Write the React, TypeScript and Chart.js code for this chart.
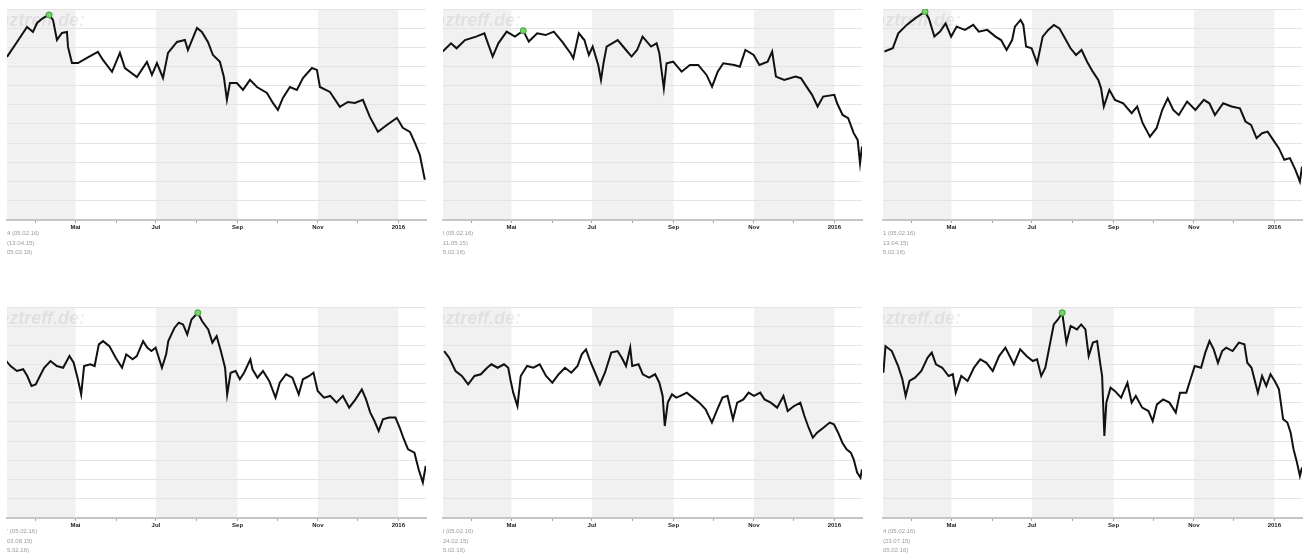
import React, { useEffect, useRef } from 'react';
import Chart from 'chart.js/auto';

// x axis: day number counted from 1 Jan 2015 (= 0)
const X_MIN = 68;
const X_MAX = 386;
const monthStartDays = [90, 120, 151, 181, 212, 243, 273, 304, 334, 365];
const monthTickLabels = ['', 'Mai', '', 'Jul', '', 'Sep', '', 'Nov', '', '2016'];
const shadedRanges = [[68, 120], [181, 243], [304, 365]];
const Y_MIN = 0;
const Y_MAX = 110;
const Y_STEP = 10;

const p1Days = [68, 75.6, 83.2, 87.7, 90.8, 95.3, 99.9, 102.9, 105.9, 109.7, 113.5, 114.3, 117.3, 121.9, 128.7, 137.0, 140.8, 147.7, 153.7, 157.5, 166.6, 174.2, 178.0, 181.8, 186.4, 190.2, 197.0, 203.0, 205.3, 208.4, 212.2, 215.9, 220.5, 224.3, 229.6, 232.6, 234.9, 237.2, 242.5, 247.1, 252.4, 257.7, 265.3, 269.8, 273.6, 277.4, 282.7, 288.0, 292.6, 299.4, 303.2, 305.5, 313.1, 320.6, 326.7, 332.0, 338.1, 343.4, 349.5, 356.3, 363.9, 368.4, 373.8, 377.6, 381.3, 385.1];
const p1Values = [85.0, 92.8, 100.6, 98.0, 102.7, 105.3, 106.9, 104.3, 93.8, 97.5, 98.0, 90.2, 81.8, 81.8, 84.5, 87.6, 83.4, 77.2, 87.1, 79.2, 74.5, 82.4, 75.6, 81.8, 74.0, 87.1, 92.8, 93.8, 88.6, 93.8, 100.1, 98.0, 92.8, 86.0, 82.4, 74.5, 62.6, 71.4, 71.4, 67.8, 73.0, 69.3, 66.2, 61.0, 57.3, 63.6, 69.3, 67.8, 74.0, 79.2, 78.2, 69.3, 66.7, 58.9, 61.5, 61.0, 62.6, 53.7, 45.9, 49.5, 53.2, 48.0, 45.9, 40.1, 33.9, 20.9];

const p2Days = [67.8, 74.1, 78.3, 84.7, 93.1, 99.4, 105.7, 110.0, 116.3, 122.6, 128.9, 133.1, 139.5, 145.8, 152.1, 158.4, 164.8, 166.9, 171.1, 175.3, 178.7, 181.6, 185.8, 187.9, 190.0, 192.2, 200.6, 206.9, 211.1, 215.3, 219.5, 225.9, 230.1, 232.2, 235.6, 237.7, 242.7, 249.1, 255.4, 261.7, 268.0, 272.2, 276.5, 280.7, 289.1, 293.3, 297.5, 303.8, 308.1, 314.4, 317.8, 320.7, 327.0, 335.5, 339.7, 343.9, 348.1, 352.3, 356.5, 365.0, 367.1, 371.3, 375.5, 379.7, 382.7, 384.5, 386];
const p2Values = [87.8, 92.1, 89.5, 93.8, 95.6, 97.3, 85.2, 92.1, 98.2, 95.6, 98.7, 93.0, 97.3, 96.4, 98.2, 93.0, 86.9, 84.3, 97.3, 93.8, 86.0, 90.4, 80.8, 73.0, 82.5, 90.4, 93.8, 88.6, 85.2, 88.6, 95.6, 90.4, 92.1, 86.9, 68.6, 81.7, 82.5, 77.3, 80.8, 80.8, 75.6, 69.5, 77.3, 81.7, 80.8, 79.9, 88.6, 86.0, 80.8, 82.5, 87.8, 74.7, 73.0, 74.7, 73.9, 69.5, 65.2, 59.1, 64.3, 65.2, 60.8, 54.7, 53.0, 45.2, 41.7, 29.5, 38.2];

const p3Days = [69.1, 75.4, 79.6, 86.0, 92.3, 99.9, 102.8, 107.0, 111.3, 115.5, 119.7, 123.9, 130.2, 136.5, 140.7, 147.1, 153.4, 157.6, 161.8, 166.0, 168.1, 172.4, 174.5, 176.6, 180.8, 185.0, 189.2, 193.4, 197.7, 201.9, 206.1, 210.3, 214.5, 218.7, 222.9, 227.2, 231.4, 233.5, 235.6, 239.8, 244.0, 250.3, 256.7, 260.9, 265.1, 270.6, 275.6, 279.9, 284.1, 288.3, 292.5, 298.8, 305.1, 311.5, 315.7, 319.9, 326.2, 332.5, 338.9, 343.1, 347.3, 351.5, 355.7, 359.9, 364.1, 368.4, 372.6, 376.8, 381.0, 384.4, 386];
const p3Values = [87.8, 89.5, 97.3, 101.7, 105.1, 108.6, 105.1, 95.6, 98.2, 102.5, 95.6, 100.8, 99.1, 101.7, 98.2, 99.1, 95.6, 93.8, 88.6, 93.8, 100.8, 104.3, 101.7, 90.4, 89.5, 81.7, 95.6, 99.1, 101.7, 99.9, 94.7, 89.5, 86.0, 88.6, 82.5, 77.3, 73.0, 68.6, 59.1, 67.8, 62.6, 60.8, 55.6, 59.1, 50.4, 43.4, 47.8, 57.3, 63.4, 57.3, 54.7, 61.7, 57.3, 62.6, 60.8, 54.7, 60.8, 59.1, 58.2, 51.3, 49.5, 42.6, 45.2, 46.0, 41.7, 37.4, 31.3, 32.2, 26.1, 20.0, 27.8];

const p4Days = [67.5, 70.7, 75.5, 80.3, 83.4, 86.6, 89.8, 93.0, 96.2, 101.0, 105.8, 110.6, 115.4, 118.6, 121.8, 124.3, 126.5, 131.3, 134.5, 137.7, 140.9, 145.7, 150.5, 155.3, 158.5, 163.3, 166.5, 171.3, 174.4, 177.6, 180.8, 185.6, 188.8, 190.4, 195.2, 198.4, 201.6, 204.8, 208.0, 212.8, 216.0, 220.7, 223.9, 227.1, 230.3, 233.5, 235.1, 237.7, 241.5, 244.7, 247.9, 252.7, 254.3, 258.1, 262.3, 267.0, 271.8, 275.0, 279.8, 284.6, 289.4, 292.6, 297.4, 300.6, 303.8, 308.6, 313.3, 318.1, 322.9, 327.7, 332.5, 337.3, 340.5, 343.7, 346.9, 350.1, 353.3, 358.0, 362.8, 366.0, 369.2, 372.4, 377.2, 380.4, 383.6, 385.8];
const p4Values = [81.8, 79.2, 76.6, 77.5, 74.0, 68.8, 69.6, 74.0, 78.3, 81.8, 79.2, 78.3, 84.4, 80.9, 72.3, 64.4, 79.2, 80.1, 79.2, 90.5, 92.2, 89.6, 83.5, 78.3, 85.3, 82.7, 84.4, 92.2, 88.8, 87.0, 88.8, 78.3, 85.3, 92.2, 99.2, 101.8, 100.9, 95.7, 103.5, 107.0, 102.7, 98.3, 91.4, 94.8, 87.0, 78.3, 64.4, 75.7, 76.6, 72.3, 75.7, 82.7, 77.5, 73.1, 76.6, 71.4, 62.7, 70.5, 74.9, 73.1, 64.4, 72.3, 74.0, 75.7, 66.2, 62.7, 63.6, 60.1, 63.6, 57.5, 61.8, 67.0, 61.8, 54.9, 50.5, 45.3, 51.4, 52.3, 52.3, 47.0, 41.0, 35.7, 34.0, 25.3, 18.4, 27.1];

const p5Days = [68.9, 72.7, 77.5, 82.3, 87.1, 91.9, 96.7, 101.5, 104.7, 109.5, 114.3, 117.5, 119.1, 121.3, 124.5, 127.0, 131.8, 136.6, 141.4, 146.2, 151.0, 155.8, 160.6, 165.4, 170.1, 173.3, 176.5, 179.7, 182.9, 187.1, 190.9, 195.7, 200.5, 203.7, 206.9, 210.1, 211.6, 216.4, 219.6, 224.4, 229.0, 232.2, 234.7, 236.3, 238.6, 241.8, 245.0, 248.2, 253.0, 257.7, 262.5, 267.3, 272.1, 276.2, 280.1, 283.9, 288.1, 291.3, 296.0, 299.9, 304.0, 308.8, 312.0, 316.8, 321.6, 326.4, 329.6, 334.4, 339.2, 342.3, 345.5, 348.7, 351.9, 356.7, 361.5, 364.7, 367.9, 371.1, 374.3, 377.5, 379.7, 382.3, 384.8, 386];
const p5Values = [87.0, 83.5, 76.6, 74.0, 69.6, 74.0, 74.9, 78.3, 80.1, 78.3, 80.1, 78.3, 72.3, 65.3, 58.3, 74.0, 79.2, 78.3, 80.1, 74.0, 70.5, 74.9, 78.3, 75.7, 79.2, 85.3, 87.9, 81.8, 76.6, 69.6, 75.7, 86.2, 87.0, 83.5, 79.2, 88.8, 79.2, 80.1, 74.9, 73.1, 74.9, 70.5, 63.6, 47.9, 60.1, 64.4, 62.7, 63.6, 65.3, 62.7, 60.1, 56.6, 49.7, 56.6, 62.7, 63.6, 51.4, 60.1, 61.8, 65.3, 63.6, 65.3, 61.8, 60.1, 57.5, 63.6, 55.7, 58.3, 60.1, 53.1, 47.0, 41.8, 44.4, 47.0, 49.7, 48.8, 44.4, 39.2, 35.7, 34.0, 30.5, 23.6, 21.0, 25.3];

const p6Days = [68.3, 69.9, 74.7, 79.5, 82.7, 85.2, 88.1, 92.3, 97.1, 101.8, 105.0, 108.2, 113.0, 117.8, 121.0, 123.2, 127.4, 132.2, 137.0, 141.8, 146.5, 151.3, 156.1, 160.9, 164.1, 167.3, 172.1, 176.9, 181.7, 184.9, 188.1, 191.2, 194.4, 197.6, 200.8, 204.0, 207.2, 210.4, 215.2, 218.4, 221.6, 224.1, 227.3, 230.5, 232.8, 234.3, 236.0, 237.5, 240.7, 243.9, 248.7, 253.5, 256.7, 259.9, 264.7, 269.5, 272.7, 275.9, 280.6, 285.4, 290.2, 293.4, 298.2, 301.4, 304.6, 309.4, 312.6, 315.8, 319.0, 322.2, 325.4, 328.5, 333.3, 338.1, 342.3, 344.5, 347.7, 352.5, 355.7, 358.9, 362.1, 365.3, 368.5, 371.7, 374.9, 377.4, 379.6, 381.9, 384.4, 386];
const p6Values = [75.7, 89.6, 87.0, 79.2, 72.3, 63.6, 71.4, 73.1, 76.6, 83.5, 86.2, 80.1, 78.3, 74.0, 74.9, 65.3, 74.0, 71.4, 78.3, 82.7, 80.9, 76.6, 84.4, 88.8, 84.4, 80.1, 87.9, 84.4, 81.8, 82.7, 74.0, 78.3, 89.6, 100.9, 103.5, 107.0, 91.4, 100.1, 98.3, 100.9, 98.3, 84.4, 91.4, 92.2, 80.9, 74.0, 42.7, 60.1, 67.9, 66.2, 62.7, 70.5, 60.1, 63.6, 57.5, 55.7, 50.5, 59.2, 61.8, 60.1, 54.9, 65.3, 65.3, 72.3, 79.2, 78.3, 86.2, 92.2, 87.9, 80.9, 87.0, 88.8, 87.0, 91.4, 90.5, 80.9, 78.3, 65.3, 74.0, 68.8, 74.9, 71.4, 67.0, 51.4, 49.7, 44.4, 35.7, 29.7, 21.9, 26.2];

// day of the 52-week high per panel (13.04.15, 11.05.15, 13.04.15, 03.08.15, 24.02.15, 23.07.15)
const highDays = [102, 130, 102, 214, 54, 203];

const p1Info = ['4 (05.02.16)', '(13.04.15)', '05.02.16)'];
const p2Info = ['l (05.02.16)', '11.05.15)', '5.02.16)'];
const p3Info = ['1 (05.02.16)', '13.04.15)', '5.02.16)'];
const p4Info = ["' (05.02.16)", '03.08.15)', '5.02.16)'];
const p5Info = ['l (05.02.16)', '24.02.15)', '5.02.16)'];
const p6Info = ['4 (05.02.16)', '(23.07.15)', '05.02.16)'];

const FONT = 'Liberation Sans, Arial, sans-serif';
const CANVAS_W = 436;
const CANVAS_H = 262;

const bandPlugin = {
  id: 'bands',
  beforeDraw(chart: any) {
    const { ctx, chartArea, scales } = chart;
    const xs = scales.x;
    ctx.save();
    ctx.fillStyle = '#f1f1f1';
    for (const [a, b] of shadedRanges) {
      const x0 = Math.max(chartArea.left, xs.getPixelForValue(a));
      const x1 = Math.min(chartArea.right, xs.getPixelForValue(b));
      if (x1 > x0) ctx.fillRect(x0, chartArea.top, x1 - x0, chartArea.bottom - chartArea.top);
    }
    ctx.restore();
  },
};

const watermarkPlugin = {
  id: 'watermark',
  beforeDatasetsDraw(chart: any) {
    const { ctx, chartArea } = chart;
    ctx.save();
    ctx.beginPath();
    ctx.rect(chartArea.left, chartArea.top, chartArea.right - chartArea.left, chartArea.bottom - chartArea.top);
    ctx.clip();
    ctx.font = `italic bold 18px ${FONT}`;
    ctx.fillStyle = 'rgba(0,0,0,0.065)';
    ctx.textAlign = 'right';
    ctx.textBaseline = 'alphabetic';
    ctx.fillText('finanztreff.de:', chartArea.left + 78, chartArea.top + 17);
    ctx.restore();
  },
};

const infoPlugin = {
  id: 'info',
  afterDraw(chart: any, _args: any, opts: any) {
    const { ctx, chartArea } = chart;
    const lines: string[] = opts.lines || [];
    ctx.save();
    ctx.font = `6px ${FONT}`;
    ctx.fillStyle = '#9a9a9a';
    ctx.textAlign = 'left';
    ctx.textBaseline = 'middle';
    lines.forEach((t, i) => {
      ctx.fillText(t, chartArea.left, chartArea.bottom + 14 + i * 9.5);
    });
    ctx.restore();
  },
};

function Panel(props: { days: number[]; values: number[]; highDay: number; info: string[]; left: number; top: number }) {
  const ref = useRef<HTMLCanvasElement>(null);
  useEffect(() => {
    const points = props.days.map((d, i) => ({ x: d, y: props.values[i] }));
    let peak: any[] = [];
    if (props.highDay >= X_MIN) {
      let mi = 0;
      props.values.forEach((v, i) => { if (v > props.values[mi]) mi = i; });
      peak = [points[mi]];
    }
    const chart = new Chart(ref.current as HTMLCanvasElement, {
      type: 'line',
      data: {
        datasets: [
          {
            type: 'scatter',
            data: peak,
            pointRadius: 3,
            pointBackgroundColor: '#79d46c',
            pointBorderColor: '#3d9a35',
            pointBorderWidth: 1,
            order: 0,
          } as any,
          {
            type: 'line',
            data: points,
            borderColor: '#111',
            borderWidth: 2,
            pointRadius: 0,
            tension: 0,
            fill: false,
            order: 1,
          } as any,
        ],
      },
      options: {
        animation: false,
        responsive: false,
        events: [],
        layout: { padding: { left: 7, right: 10, top: 9, bottom: 30 } },
        plugins: {
          legend: { display: false },
          tooltip: { enabled: false },
          info: { lines: props.info },
        } as any,
        scales: {
          x: {
            type: 'linear',
            min: X_MIN,
            max: X_MAX,
            afterBuildTicks: (axis: any) => {
              axis.ticks = monthStartDays.map((v) => ({ value: v }));
            },
            ticks: {
              autoSkip: false,
              maxRotation: 0,
              padding: 1,
              color: '#222',
              font: { size: 6, family: FONT, weight: 'bold' },
              callback: (_v: any, i: number) => monthTickLabels[i] ?? '',
            },
            grid: { drawOnChartArea: false, drawTicks: true, tickLength: 3, color: '#999' },
            border: { color: '#c6c6c6', width: 2 },
          },
          y: {
            min: Y_MIN,
            max: Y_MAX,
            ticks: { display: false, stepSize: Y_STEP },
            grid: { color: '#e4e4e4', drawTicks: false, lineWidth: 1 },
            border: { display: false },
          },
        },
      },
      plugins: [bandPlugin, watermarkPlugin, infoPlugin],
    } as any);
    return () => chart.destroy();
  }, []);
  return (
    <canvas
      ref={ref}
      width={CANVAS_W}
      height={CANVAS_H}
      style={{ position: 'absolute', left: props.left - 7, top: props.top - 9, width: CANVAS_W, height: CANVAS_H }}
    />
  );
}

const panelLefts = [7, 443, 883];
const rowTops = [9, 307];

export default function App() {
  const panels = [
    { days: p1Days, values: p1Values, info: p1Info },
    { days: p2Days, values: p2Values, info: p2Info },
    { days: p3Days, values: p3Values, info: p3Info },
    { days: p4Days, values: p4Values, info: p4Info },
    { days: p5Days, values: p5Values, info: p5Info },
    { days: p6Days, values: p6Values, info: p6Info },
  ];
  return (
    <div style={{ position: 'fixed', left: 0, top: 0, width: 1312, height: 556, overflow: 'hidden', background: '#fff' }}>
      {panels.map((p, i) => (
        <Panel
          key={i}
          days={p.days}
          values={p.values}
          highDay={highDays[i]}
          info={p.info}
          left={panelLefts[i % 3]}
          top={rowTops[Math.floor(i / 3)]}
        />
      ))}
    </div>
  );
}
